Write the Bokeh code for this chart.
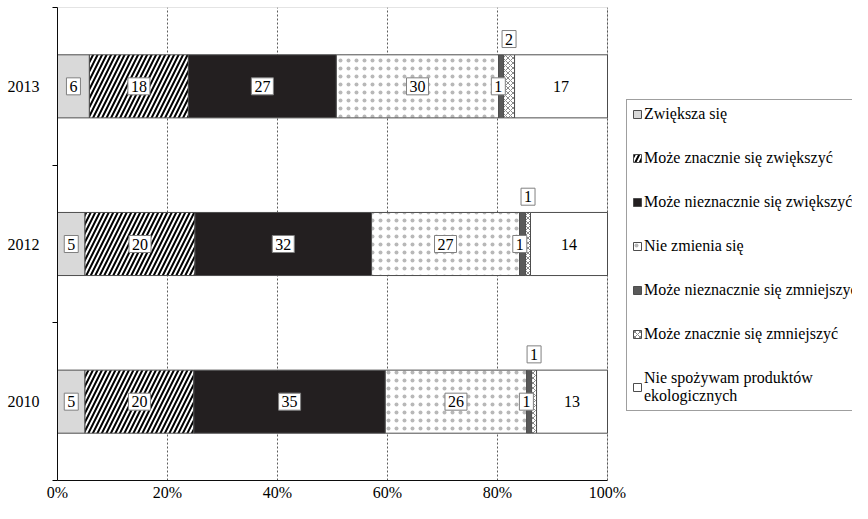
from bokeh.plotting import figure
from bokeh.models import (ColumnDataSource, FixedTicker, Legend, LegendItem, Range1d,
                          PrintfTickFormatter, BoxAnnotation)
from bokeh.core.properties import value
from bokeh.transform import stack
from bokeh.embed import file_html
from bokeh.resources import INLINE
import numpy as np

# ---------------- data ----------------
years = ["2013", "2012", "2010"]
series_names = [
    "Zwiększa się",
    "Może znacznie się zwiększyć",
    "Może nieznacznie się zwiększyć",
    "Nie zmienia się",
    "Może nieznacznie się zmniejszyć",
    "Może znacznie się zmniejszyć",
    "Nie spożywam produktów\nekologicznych",
]
zwieksza = [5.8, 5.0, 5.0]
znacznie_zw = [18.0, 20.0, 19.8]
nieznacznie_zw = [26.9, 32.1, 34.8]
nie_zmienia = [29.5, 26.9, 25.7]
nieznacznie_zm = [0.9, 1.1, 0.9]
znacznie_zm = [2.0, 0.9, 0.9]
nie_spozywam = [16.9, 14.0, 12.9]

lab_zwieksza = ["6", "5", "5"]
lab_znacznie_zw = ["18", "20", "20"]
lab_nieznacznie_zw = ["27", "32", "35"]
lab_nie_zmienia = ["30", "27", "26"]
lab_nieznacznie_zm = ["1", "1", "1"]
lab_znacznie_zm = ["2", "1", "1"]
lab_nie_spozywam = ["17", "14", "13"]

x_ticks = [0, 20, 40, 60, 80, 100]

# ---------------- build ----------------
keys = ["s0", "s1", "s2", "s3", "s4", "s5", "s6"]
vals = [zwieksza, znacznie_zw, nieznacznie_zw, nie_zmienia, nieznacznie_zm, znacznie_zm, nie_spozywam]
labs = [lab_zwieksza, lab_znacznie_zw, lab_nieznacznie_zw, lab_nie_zmienia,
        lab_nieznacznie_zm, lab_znacznie_zm, lab_nie_spozywam]

n = len(years)
ypos = [n - i - 0.5 for i in range(n)]
data = {"y": ypos}
for k, v in zip(keys, vals):
    data[k] = v
src = ColumnDataSource(data)

FONT = "Liberation Serif"

W, H = 852, 503
LEFT = 57
X_END = 100 * (W - LEFT) / 550.0   # 100 % lands 550 px right of the axis

p = figure(width=W, height=H, output_backend="svg", toolbar_location=None, title=None,
           x_range=Range1d(0, X_END), y_range=Range1d(0, n),
           min_border_left=LEFT, min_border_right=0, min_border_top=7, min_border_bottom=21)

styles = [
    dict(fill_color="#d9d9d9", hatch_pattern=" "),
    dict(fill_color="white", hatch_pattern="right_diagonal_line", hatch_color="#000000", hatch_weight=2, hatch_scale=9),
    dict(fill_color="#231f20", hatch_pattern=" "),
    dict(fill_color="white", hatch_pattern="dot", hatch_color="#b8b8b8", hatch_weight=0.5, hatch_scale=8),
    dict(fill_color="#595959", hatch_pattern=" "),
    dict(fill_color="white", hatch_pattern="diagonal_cross", hatch_color="#8a8a8a", hatch_weight=1, hatch_scale=5),
    dict(fill_color="white", hatch_pattern=" "),
]

renderers = []
for i, k in enumerate(keys):
    r = p.hbar(y="y", left=stack(*keys[:i]), right=stack(*keys[:i + 1]), height=0.4,
               source=src, line_color="#4d4d4d", line_width=1, **styles[i])
    renderers.append(r)

# ---------------- labels ----------------
arr = np.array(vals)
cum = np.cumsum(arr, axis=0)
mid = cum - arr / 2.0

boxed_x, boxed_y, boxed_t = [], [], []
plain_x, plain_y, plain_t = [], [], []
for i in range(len(keys)):
    for j in range(n):
        if i == 6:
            plain_x.append(mid[i, j]); plain_y.append(ypos[j]); plain_t.append(labs[i][j])
        elif i == 5:
            boxed_x.append(mid[i, j]); boxed_y.append(ypos[j] + 0.30); boxed_t.append(labs[i][j])
        elif i == 4:
            boxed_x.append(mid[i, j] - 0.5); boxed_y.append(ypos[j]); boxed_t.append(labs[i][j])
        else:
            boxed_x.append(mid[i, j]); boxed_y.append(ypos[j]); boxed_t.append(labs[i][j])

p.text(x=boxed_x, y=boxed_y, text=boxed_t, text_font=value(FONT), text_font_size="16px",
       text_align="center", text_baseline="middle", text_color="black",
       background_fill_color="white", border_line_color="#808080", border_line_width=1,
       padding=3)
p.text(x=plain_x, y=plain_y, text=plain_t, text_font=value(FONT), text_font_size="16px",
       text_align="center", text_baseline="middle", text_color="black")

# frame around the 0-100 % area
p.add_layout(BoxAnnotation(left=0, right=100, bottom=0, top=n, fill_alpha=0,
                           line_color="#4d4d4d", line_width=1))

# ---------------- axes ----------------
p.xaxis.ticker = FixedTicker(ticks=x_ticks)
p.xaxis.bounds = (0, 100)
p.xaxis.formatter = PrintfTickFormatter(format="%d%%")
p.xaxis.major_tick_out = 0
p.xaxis.major_tick_in = 0
p.xaxis.minor_tick_out = 0
p.xaxis.major_label_standoff = 3
p.xaxis.major_label_text_font = FONT
p.xaxis.major_label_text_font_size = "16px"
p.xaxis.major_label_text_color = "black"
p.xaxis.axis_line_color = "black"

p.yaxis.ticker = FixedTicker(ticks=ypos, minor_ticks=list(range(n + 1)))
p.yaxis.major_label_overrides = {ypos[j]: years[j] for j in range(n)}
p.yaxis.major_tick_out = 0
p.yaxis.major_tick_in = 0
p.yaxis.minor_tick_out = 5
p.yaxis.minor_tick_in = 0
p.yaxis.minor_tick_line_color = "black"
p.yaxis.major_label_standoff = 13
p.yaxis.major_label_text_font = FONT
p.yaxis.major_label_text_font_size = "16px"
p.yaxis.major_label_text_color = "black"
p.yaxis.axis_line_color = "black"

p.xgrid.grid_line_color = "#333333"
p.xgrid.grid_line_dash = "2 2"
p.xgrid.grid_line_width = 0.8
p.ygrid.visible = False
p.outline_line_color = None

# ---------------- legend ----------------
items = [LegendItem(label=series_names[i], renderers=[renderers[i]]) for i in range(len(keys))]
legend = Legend(items=items, location=(569, 69), orientation="vertical",
                label_text_font=FONT, label_text_font_size="16px", label_text_color="black",
                glyph_width=10, glyph_height=10, label_standoff=2, spacing=26,
                padding=5, margin=0, label_height=18,
                border_line_color="#404040", border_line_width=1,
                background_fill_color="white", background_fill_alpha=1)
p.add_layout(legend)

open("out.html", "w").write(file_html(p, INLINE))
